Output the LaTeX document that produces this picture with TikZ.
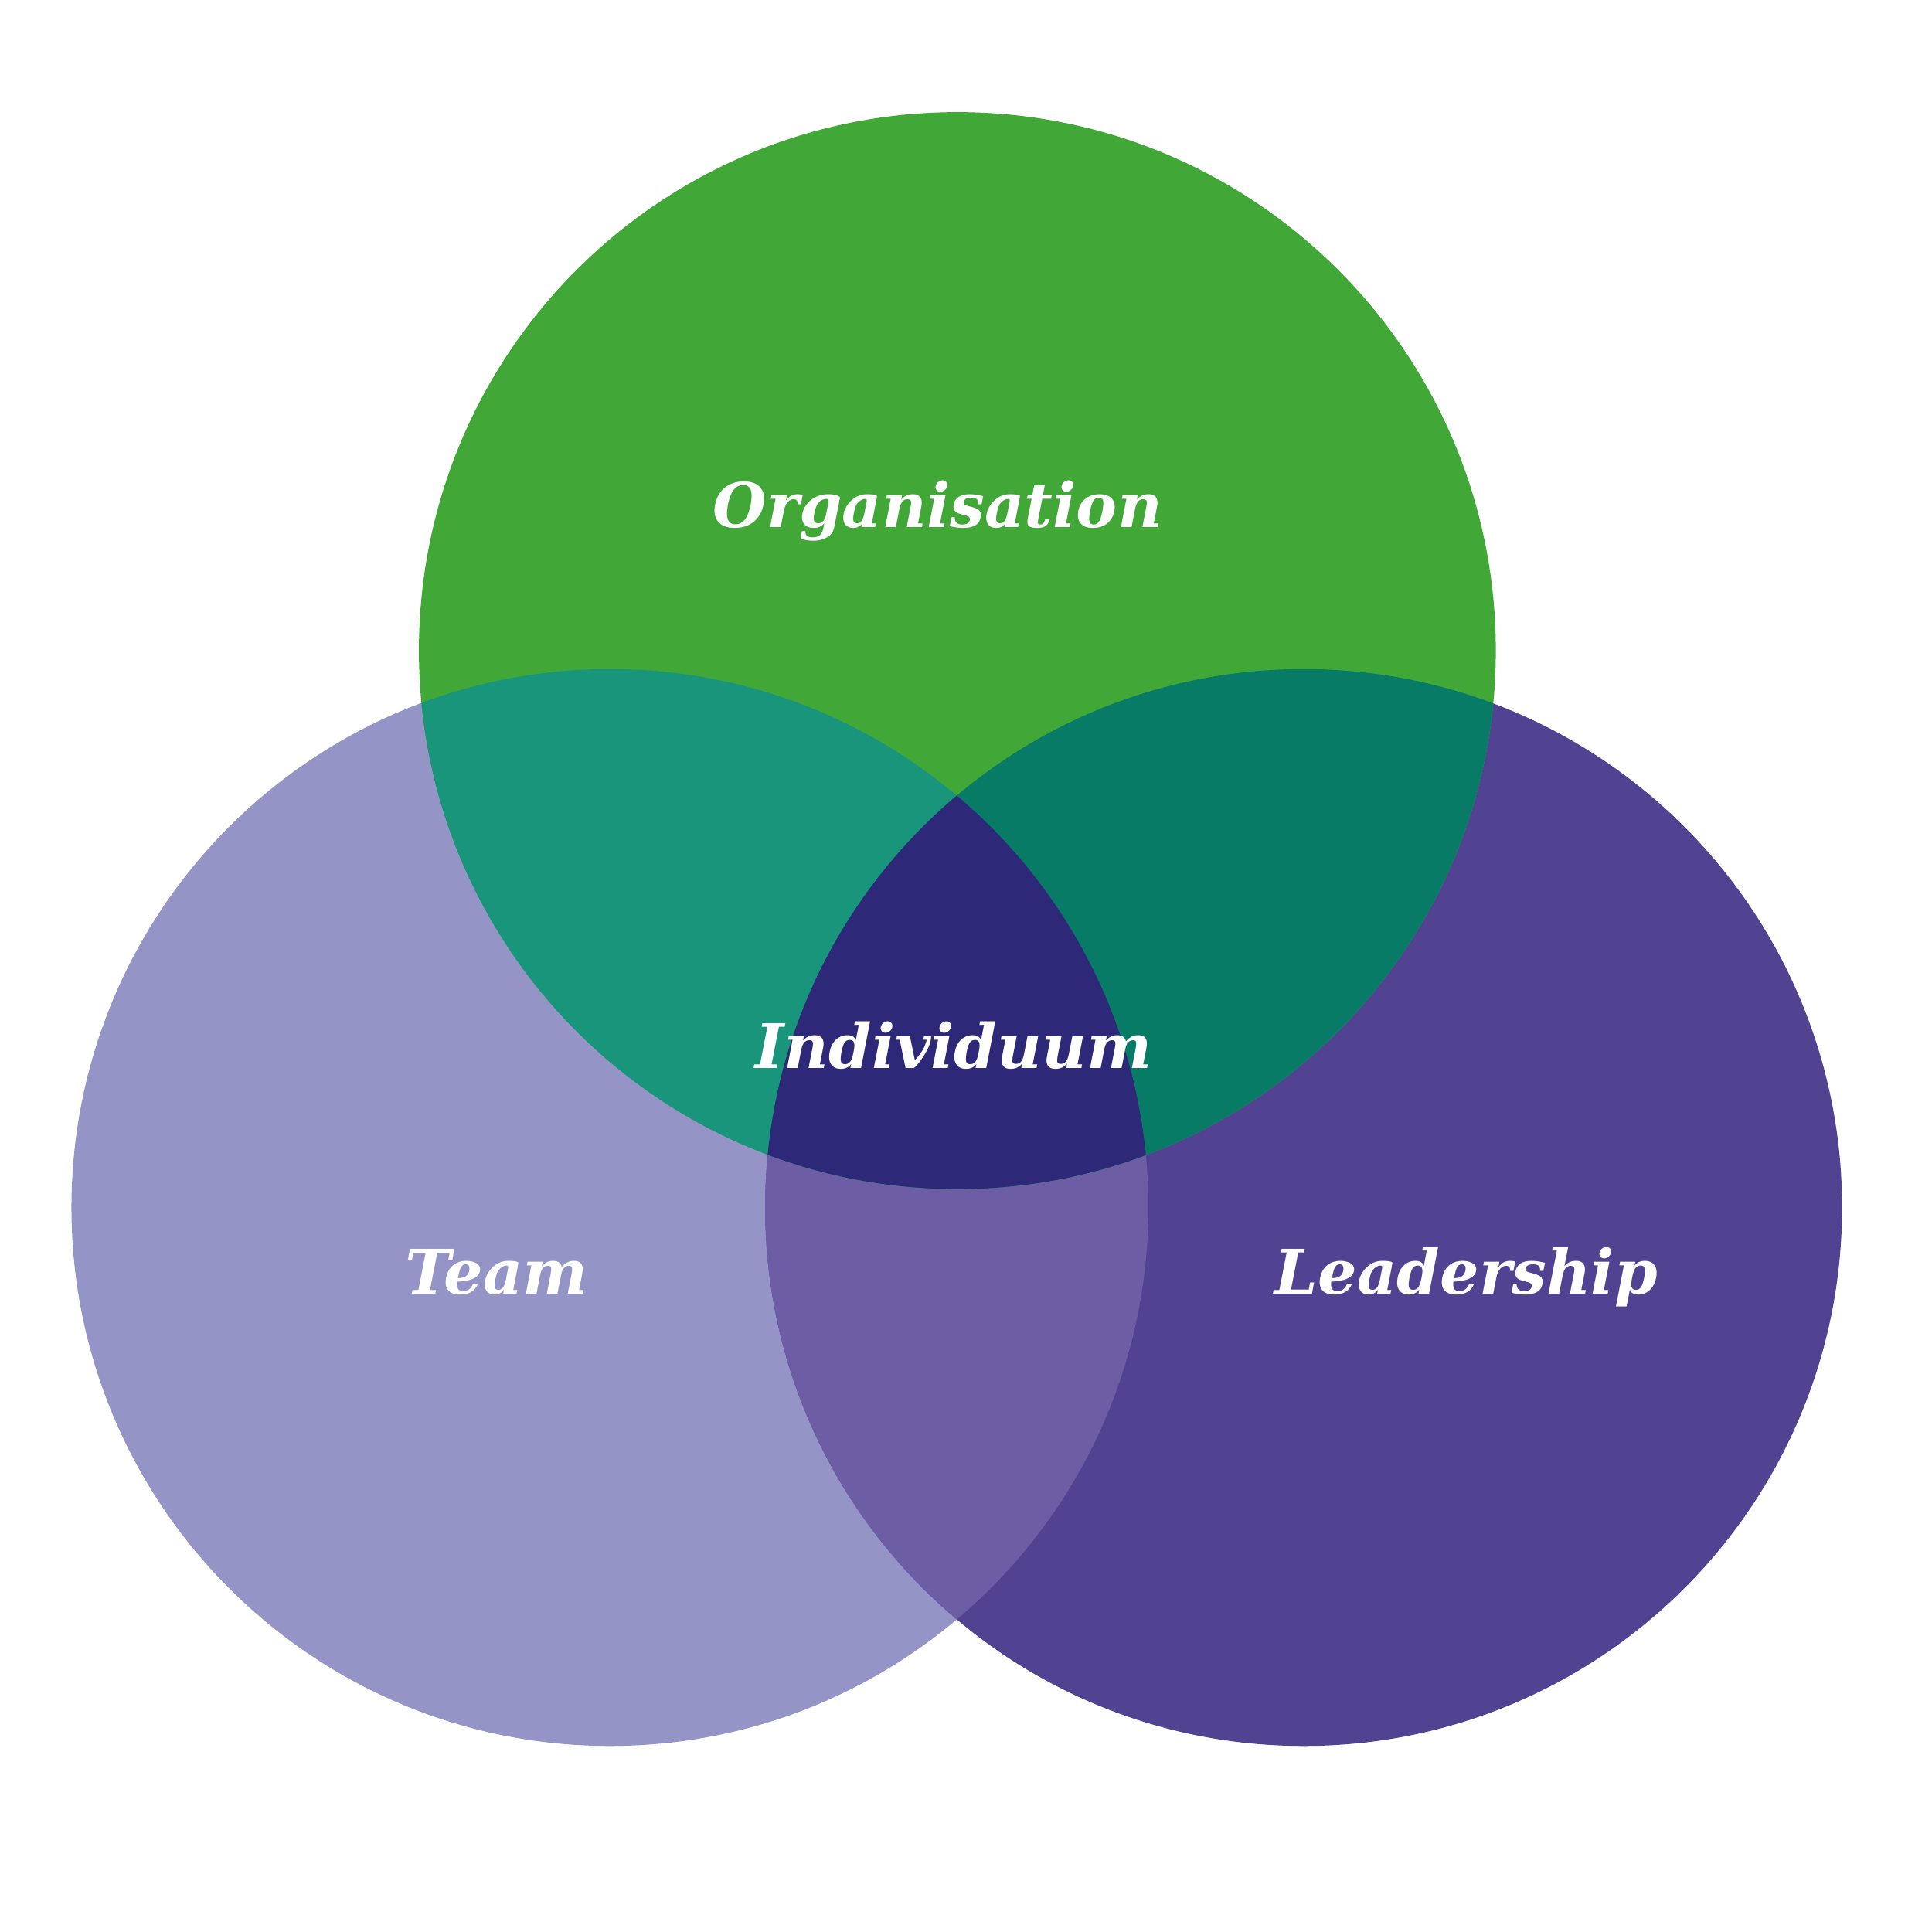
\documentclass[tikz,border=0pt]{standalone}
\usepackage{fontspec}
\setmainfont{DejaVu Serif}
\usetikzlibrary{positioning}
\definecolor{orggreen}{RGB}{65,168,56}
\definecolor{teamlav}{RGB}{148,148,199}
\definecolor{leadpurple}{RGB}{81,67,145}
\definecolor{orgteam}{RGB}{24,149,123}
\definecolor{orglead}{RGB}{8,123,103}
\definecolor{teamlead}{RGB}{109,93,165}
\definecolor{allthree}{RGB}{46,40,120}

\begin{document}
\begin{tikzpicture}[x=0.01cm,y=-0.01cm,
  lbl/.style={text=white,anchor=base,inner sep=0pt,font=\fontsize{14.2}{17}\selectfont\bfseries\itshape}]
\useasboundingbox (0,0) rectangle (1568,1568);
\def\rad{437}
\coordinate (org) at (777,528);
\coordinate (team) at (495,980);
\coordinate (lead) at (1058,980);
% the three sets
\fill[teamlav] (team) circle (\rad);
\fill[leadpurple] (lead) circle (\rad);
\begin{scope}
  \clip (team) circle (\rad);
  \fill[teamlead] (lead) circle (\rad);
\end{scope}
\fill[orggreen] (org) circle (\rad);
% overlaps with the top set
\begin{scope}
  \clip (org) circle (\rad);
  \fill[orgteam] (team) circle (\rad);
  \fill[orglead] (lead) circle (\rad);
  \clip (team) circle (\rad);
  \fill[allthree] (lead) circle (\rad);
\end{scope}
% labels
\node[lbl] (orglbl) at (761,428) {Organisation};
\node[lbl] (indlbl) at (774,867) {Individuum};
\node[lbl] (teamlbl) at (403,1050) {Team};
\node[lbl] (leadlbl) at (1190,1050) {Leadership};
\end{tikzpicture}
\end{document}
